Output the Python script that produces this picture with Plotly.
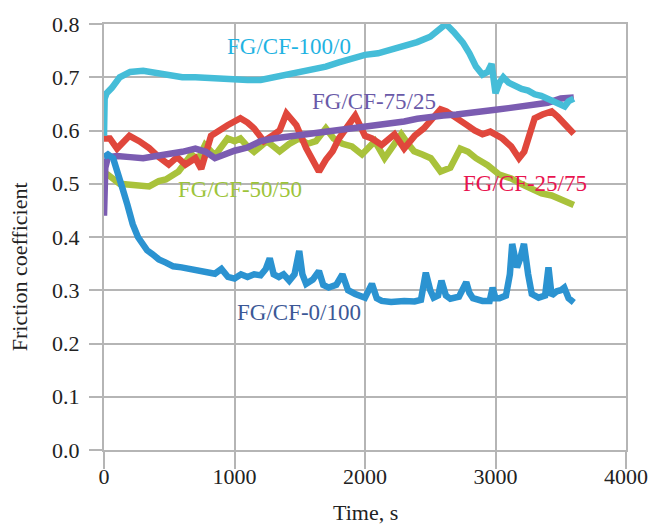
import plotly.graph_objects as go

# ---- data ----
t_100_0 = [0, 5, 20, 60, 120, 200, 300, 400, 500, 600, 700, 800, 900, 1000, 1100, 1200, 1300, 1400,
           1500, 1600, 1700, 1800, 1900, 2000, 2100, 2200, 2300, 2400, 2500, 2560, 2620, 2680, 2750,
           2800, 2850, 2900, 2940, 2970, 3000, 3030, 3060, 3100, 3150, 3200, 3250, 3300, 3350, 3400,
           3450, 3500, 3530, 3560, 3600]
y_100_0 = [0.59, 0.66, 0.67, 0.68, 0.70, 0.71, 0.712, 0.708, 0.705, 0.70, 0.70, 0.698, 0.697, 0.697,
           0.695, 0.695, 0.70, 0.705, 0.71, 0.713, 0.72, 0.728, 0.735, 0.742, 0.745, 0.752, 0.758,
           0.766, 0.776, 0.79, 0.80, 0.785, 0.765, 0.745, 0.72, 0.705, 0.71, 0.725, 0.67, 0.69, 0.70,
           0.69, 0.683, 0.678, 0.675, 0.668, 0.665, 0.66, 0.655, 0.648, 0.645, 0.655, 0.66]

t_75_25 = [0, 10, 30, 100, 200, 300, 400, 500, 600, 700, 780, 850, 920, 1000, 1100, 1200, 1300, 1400,
           1500, 1600, 1700, 1800, 1900, 2000, 2100, 2200, 2300, 2400, 2500, 2600, 2700, 2800, 2900,
           3000, 3100, 3200, 3300, 3400, 3500, 3600]
y_75_25 = [0.44, 0.53, 0.55, 0.552, 0.55, 0.548, 0.552, 0.555, 0.56, 0.566, 0.56, 0.548, 0.556, 0.562,
           0.568, 0.58, 0.585, 0.588, 0.592, 0.597, 0.60, 0.602, 0.605, 0.607, 0.61, 0.613, 0.617,
           0.622, 0.626, 0.628, 0.63, 0.632, 0.636, 0.639, 0.642, 0.645, 0.648, 0.652, 0.66, 0.662]

t_25_75 = [0, 45, 100, 150, 195, 270, 346, 420, 496, 560, 624, 700, 745, 820, 900, 947, 1045, 1100,
           1150, 1225, 1300, 1346, 1398, 1474, 1549, 1600, 1647, 1700, 1752, 1800, 1850, 1900, 1925,
           2000, 2053, 2128, 2226, 2300, 2380, 2451, 2530, 2579, 2624, 2700, 2776, 2840, 2900, 2960,
           3053, 3120, 3180, 3220, 3256, 3300, 3360, 3430, 3480, 3527, 3570, 3600]
y_25_75 = [0.585, 0.585, 0.566, 0.58, 0.59, 0.58, 0.567, 0.55, 0.536, 0.55, 0.536, 0.548, 0.528, 0.59,
           0.605, 0.61, 0.623, 0.615, 0.604, 0.58, 0.592, 0.60, 0.632, 0.61, 0.567, 0.545, 0.523,
           0.545, 0.561, 0.585, 0.604, 0.623, 0.628, 0.59, 0.585, 0.573, 0.593, 0.566, 0.59, 0.604,
           0.625, 0.64, 0.636, 0.625, 0.611, 0.60, 0.593, 0.598, 0.585, 0.57, 0.548, 0.56, 0.585,
           0.623, 0.63, 0.636, 0.625, 0.611, 0.60, 0.594]

t_50_50 = [0, 30, 120, 220, 346, 420, 474, 571, 620, 670, 720, 774, 850, 900, 947, 1000, 1045, 1100,
           1150, 1200, 1248, 1300, 1346, 1420, 1496, 1560, 1624, 1700, 1760, 1827, 1900, 1977, 2030,
           2075, 2150, 2220, 2278, 2330, 2376, 2440, 2504, 2579, 2654, 2730, 2790, 2850, 2940, 3030,
           3120, 3203, 3280, 3353, 3430, 3504, 3560, 3600]
y_50_50 = [0.515, 0.517, 0.50, 0.498, 0.495, 0.505, 0.508, 0.523, 0.54, 0.555, 0.545, 0.573, 0.553,
           0.57, 0.585, 0.58, 0.585, 0.57, 0.56, 0.57, 0.58, 0.57, 0.561, 0.575, 0.585, 0.575, 0.58,
           0.604, 0.585, 0.575, 0.57, 0.555, 0.57, 0.58, 0.548, 0.57, 0.593, 0.575, 0.561, 0.555,
           0.548, 0.523, 0.53, 0.566, 0.56, 0.548, 0.535, 0.517, 0.51, 0.499, 0.49, 0.482, 0.478,
           0.47, 0.465, 0.46]

t_0_100 = [0, 30, 70, 110, 143, 180, 220, 260, 295, 330, 370, 420, 474, 530, 594, 650, 722, 780, 850,
           900, 950, 1000, 1050, 1100, 1150, 1200, 1240, 1270, 1300, 1340, 1376, 1420, 1460, 1496,
           1520, 1549, 1600, 1647, 1680, 1722, 1780, 1827, 1870, 1925, 1970, 2000, 2053, 2090, 2128,
           2200, 2300, 2380, 2429, 2466, 2500, 2526, 2560, 2586, 2620, 2654, 2720, 2776, 2800, 2827,
           2900, 2955, 2978, 3000, 3030, 3080, 3110, 3128, 3150, 3165, 3190, 3218, 3250, 3278, 3330,
           3380, 3406, 3430, 3470, 3500, 3527, 3560, 3600]
y_0_100 = [0.55, 0.555, 0.548, 0.52, 0.49, 0.46, 0.424, 0.40, 0.387, 0.375, 0.368, 0.358, 0.352,
           0.345, 0.343, 0.34, 0.337, 0.335, 0.331, 0.34, 0.325, 0.322, 0.33, 0.325, 0.33, 0.328,
           0.34, 0.36, 0.33, 0.325, 0.33, 0.318, 0.33, 0.374, 0.33, 0.312, 0.32, 0.336, 0.31, 0.305,
           0.31, 0.33, 0.30, 0.293, 0.29, 0.286, 0.312, 0.285, 0.28, 0.278, 0.28, 0.279, 0.282,
           0.333, 0.30, 0.286, 0.29, 0.318, 0.29, 0.284, 0.288, 0.315, 0.295, 0.285, 0.28, 0.28,
           0.305, 0.285, 0.285, 0.29, 0.33, 0.387, 0.36, 0.343, 0.36, 0.387, 0.33, 0.293, 0.286,
           0.29, 0.343, 0.29, 0.298, 0.30, 0.305, 0.285, 0.277]

labels = ["FG/CF-100/0", "FG/CF-75/25", "FG/CF-50/50", "FG/CF-25/75", "FG/CF-0/100"]
label_t = [1420, 2068, 1045, 3226, 1496]
label_y = [0.757, 0.654, 0.49, 0.50, 0.258]

x_ticks = [0, 1000, 2000, 3000, 4000]
y_ticks = [0.0, 0.1, 0.2, 0.3, 0.4, 0.5, 0.6, 0.7, 0.8]

# ---- styles ----
line_colors = {
    "FG/CF-100/0": "#45bdd8",
    "FG/CF-75/25": "#7b5cb1",
    "FG/CF-50/50": "#a9c23b",
    "FG/CF-25/75": "#e0473c",
    "FG/CF-0/100": "#2b93d1",
}
label_colors = ["#1fb3e2", "#6a5aa8", "#9dc43a", "#e8144f", "#3c5896"]
FONT = "Liberation Serif, Times New Roman, serif"
GRID = "#b5b5b5"

series = {
    "FG/CF-50/50": (t_50_50, y_50_50),
    "FG/CF-25/75": (t_25_75, y_25_75),
    "FG/CF-75/25": (t_75_25, y_75_25),
    "FG/CF-100/0": (t_100_0, y_100_0),
    "FG/CF-0/100": (t_0_100, y_0_100),
}

fig = go.Figure()
for name, (tt, yy) in series.items():
    fig.add_trace(go.Scatter(x=tt, y=yy, mode="lines", name=name,
                             line=dict(color=line_colors[name], width=6.5),
                             showlegend=False))

for txt, tx, ty, c in zip(labels, label_t, label_y, label_colors):
    fig.add_annotation(x=tx, y=ty, text=txt, showarrow=False,
                       font=dict(family=FONT, size=23, color=c),
                       xanchor="center", yanchor="middle")

fig.add_annotation(xref="paper", yref="paper", x=0.5, y=-0.147, text="Time, s",
                   showarrow=False, font=dict(family=FONT, size=22, color="#222"),
                   xanchor="center", yanchor="middle")
fig.add_annotation(xref="paper", yref="paper", x=-0.162, y=0.43, text="Friction coefficient",
                   textangle=-90, showarrow=False,
                   font=dict(family=FONT, size=22, color="#222"),
                   xanchor="center", yanchor="middle")

fig.update_xaxes(range=[0, 4000], tickvals=x_ticks, ticktext=[str(v) for v in x_ticks],
                 showgrid=True, gridcolor=GRID, gridwidth=2, zeroline=False,
                 showline=True, mirror=True, linecolor=GRID, linewidth=2,
                 ticks="outside", ticklen=17, tickwidth=2, tickcolor=GRID,
                 ticklabelstandoff=-11,
                 tickfont=dict(family=FONT, size=22, color="#222"))
fig.update_yaxes(range=[0, 0.8], tickvals=y_ticks, ticktext=[f"{v:.1f}" for v in y_ticks],
                 showgrid=True, gridcolor=GRID, gridwidth=2, zeroline=False,
                 showline=True, mirror=True, linecolor=GRID, linewidth=2,
                 ticks="outside", ticklen=13, tickwidth=2, tickcolor=GRID,
                 ticklabelstandoff=5,
                 tickfont=dict(family=FONT, size=22, color="#222"))

fig.update_layout(width=660, height=525, margin=dict(l=104, r=24, t=22, b=75),
                  paper_bgcolor="white", plot_bgcolor="white",
                  font=dict(family=FONT))

fig.write_html("out.html")
